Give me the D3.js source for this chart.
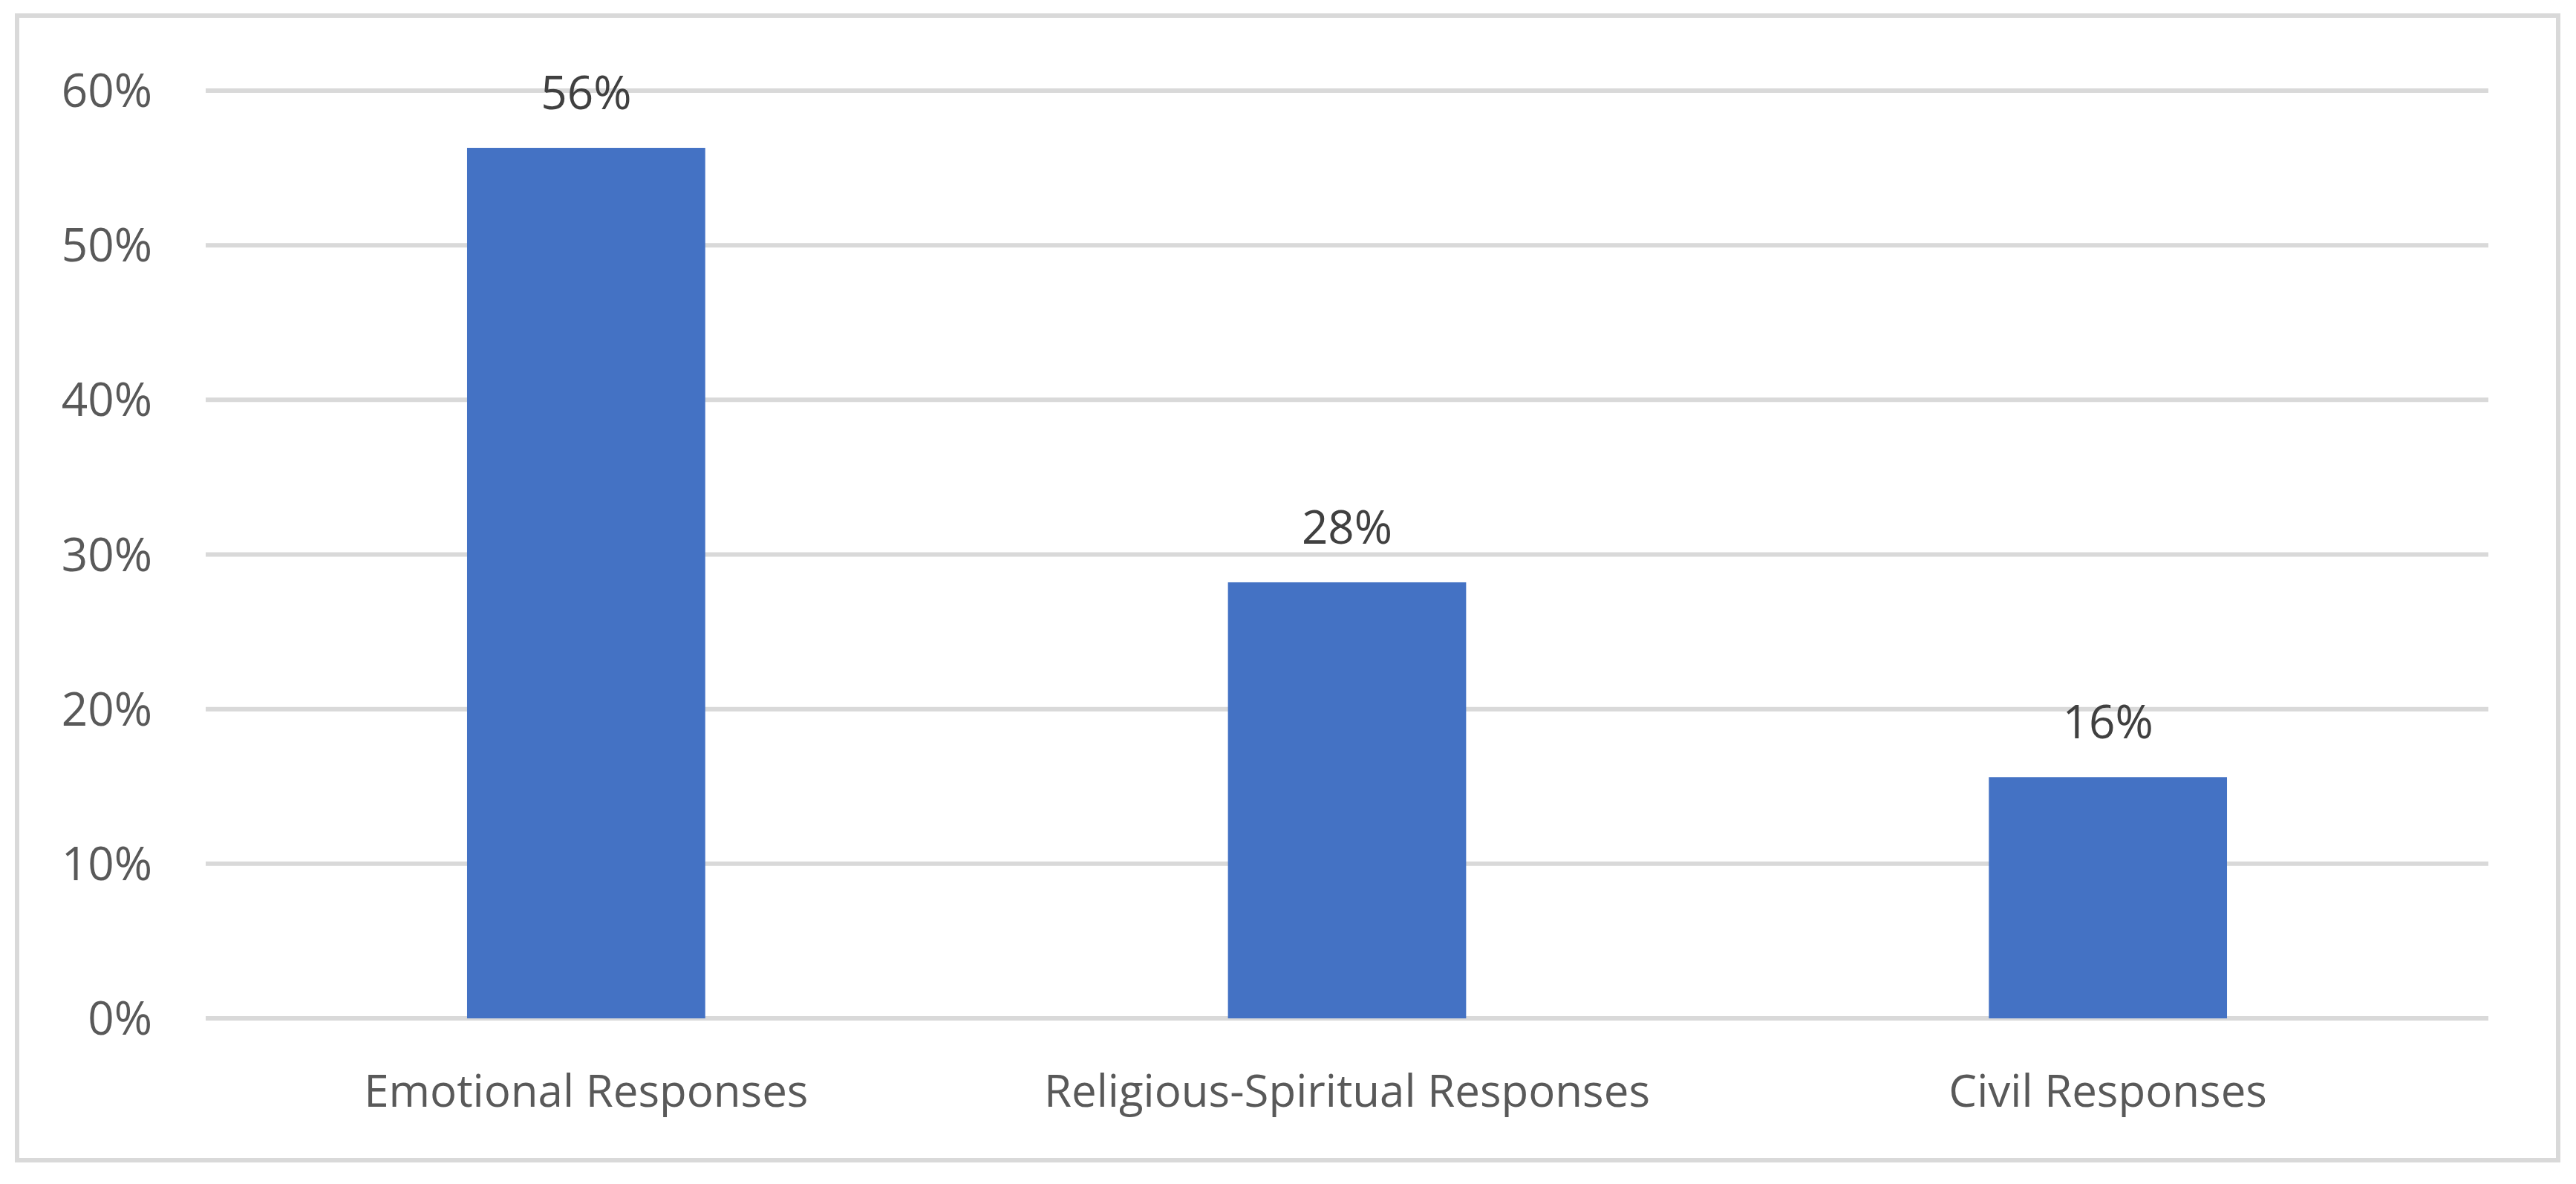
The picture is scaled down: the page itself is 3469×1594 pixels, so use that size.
<!DOCTYPE html>
<html>
<head>
<meta charset="utf-8">
<script src="https://cdn.jsdelivr.net/npm/d3@7"></script>
<style>
  body { margin: 0; background: #fff; }
  text { font-family: "Open Sans", "Noto Sans", sans-serif; }
</style>
</head>
<body>
<svg id="chart" width="3469" height="1594"></svg>
<script>
const categories = ["Emotional Responses", "Religious-Spiritual Responses", "Civil Responses"];
const values = [0.563, 0.282, 0.156];
const valueLabels = ["56%", "28%", "16%"];
const yTicks = [0, 0.1, 0.2, 0.3, 0.4, 0.5, 0.6];

const svg = d3.select("#chart");
const margin = { left: 277, right: 3351, top: 122, bottom: 1371 };

// outer border
svg.append("rect")
  .attr("x", 23).attr("y", 21)
  .attr("width", 3422).attr("height", 1541)
  .attr("fill", "none").attr("stroke", "#d9d9d9").attr("stroke-width", 6);

const x = d3.scaleBand().domain(categories).range([margin.left, margin.right]).paddingInner(0.687).paddingOuter(0.3435);
const y = d3.scaleLinear().domain([0, 0.6]).range([margin.bottom, margin.top]);

// gridlines
svg.selectAll(".grid").data(yTicks).enter().append("line")
  .attr("x1", margin.left).attr("x2", margin.right)
  .attr("y1", (d) => y(d)).attr("y2", (d) => y(d))
  .attr("stroke", "#d9d9d9").attr("stroke-width", 6);

// y tick labels
svg.selectAll(".ytick").data(yTicks).enter().append("text")
  .attr("x", 205).attr("y", (d) => y(d) + 22)
  .attr("text-anchor", "end")
  .attr("font-size", 62).attr("fill", "#595959")
  .text(d3.format(".0%"));

// bars
svg.selectAll(".bar").data(values).enter().append("rect")
  .attr("x", (d, i) => x(categories[i]))
  .attr("width", x.bandwidth())
  .attr("y", (d) => y(d))
  .attr("height", (d) => y(0) - y(d))
  .attr("fill", "#4472c4");

// value labels
svg.selectAll(".val").data(values).enter().append("text")
  .attr("x", (d, i) => x(categories[i]) + x.bandwidth() / 2)
  .attr("y", (d) => y(d) - 52)
  .attr("text-anchor", "middle")
  .attr("font-size", 62).attr("fill", "#404040")
  .text((d, i) => valueLabels[i]);

// category labels
svg.selectAll(".cat").data(categories).enter().append("text")
  .attr("x", (d) => x(d) + x.bandwidth() / 2)
  .attr("y", 1490)
  .attr("text-anchor", "middle")
  .attr("font-size", 60).attr("fill", "#595959")
  .text((d) => d);
</script>
</body>
</html>
